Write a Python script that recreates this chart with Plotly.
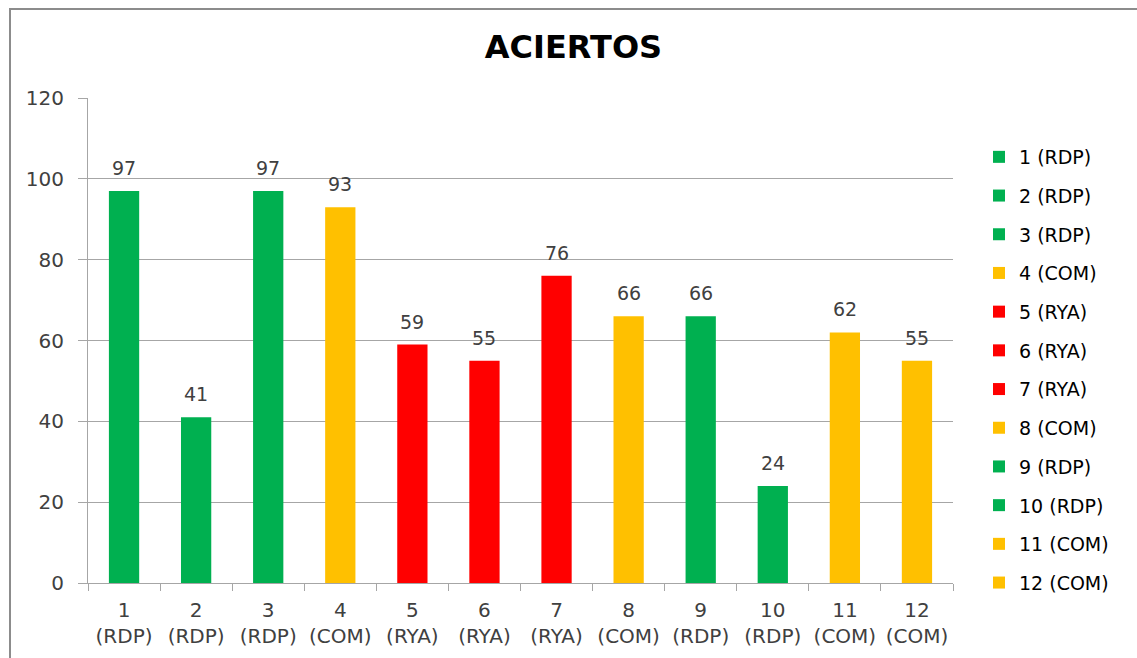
import plotly.graph_objects as go

# Test items and their hit rates
categories = ["1 (RDP)", "2 (RDP)", "3 (RDP)", "4 (COM)", "5 (RYA)", "6 (RYA)",
              "7 (RYA)", "8 (COM)", "9 (RDP)", "10 (RDP)", "11 (COM)", "12 (COM)"]
tick_labels = ["1<br>(RDP)", "2<br>(RDP)", "3<br>(RDP)", "4<br>(COM)", "5<br>(RYA)", "6<br>(RYA)",
               "7<br>(RYA)", "8<br>(COM)", "9<br>(RDP)", "10<br>(RDP)", "11<br>(COM)", "12<br>(COM)"]
values = [97, 41, 97, 93, 59, 55, 76, 66, 66, 24, 62, 55]
groups = ["RDP", "RDP", "RDP", "COM", "RYA", "RYA", "RYA", "COM", "RDP", "RDP", "COM", "COM"]

group_colors = {"RDP": "#00B050", "COM": "#FFC000", "RYA": "#FF0000"}

FONT = "DejaVu Sans, Open Sans, sans-serif"
TEXT = "#404040"
AXIS = "#A6A6A6"

W, H = 1137, 658
L, R, T, B = 88, 184, 98, 75
pw, ph = W - L - R, H - T - B

fig = go.Figure()
for i, (cat, val, grp) in enumerate(zip(categories, values, groups)):
    fig.add_trace(go.Bar(
        x=[tick_labels[i]], y=[val], name=cat,
        legendgroup=cat,
        marker=dict(color=group_colors[grp], line=dict(width=0)),
        width=0.42,
        cliponaxis=False,
    ))

# value labels above each bar
annotations = [
    dict(x=tick_labels[i], y=val, xref="x", yref="y", text=str(val),
         showarrow=False, yanchor="bottom", yshift=10,
         font=dict(family=FONT, size=19, color=TEXT))
    for i, val in enumerate(values)
]

fig.update_layout(
    width=W, height=H,
    margin=dict(l=L, r=R, t=T, b=B, autoexpand=False),
    paper_bgcolor="white", plot_bgcolor="white",
    barmode="overlay",
    title=dict(text="<b>ACIERTOS</b>", x=573.5 / W, xanchor="center",
               y=1 - 47 / H, yanchor="middle",
               font=dict(family=FONT, size=32, color="black")),
    showlegend=True,
    legend=dict(
        x=(979 - L) / pw, xanchor="left",
        y=1 - (138 - T) / ph, yanchor="top",
        font=dict(family=FONT, size=19, color="black"),
        tracegroupgap=11,
        itemclick=False, bgcolor="rgba(0,0,0,0)",
    ),
    annotations=annotations,
    xaxis=dict(
        categoryorder="array", categoryarray=tick_labels,
        tickfont=dict(family=FONT, size=20, color=TEXT),
        showline=True, linecolor=AXIS, linewidth=1,
        ticks="outside", ticklen=7, tickcolor=AXIS, tickson="boundaries",
        showgrid=False, zeroline=False, ticklabelstandoff=9, automargin=False,
    ),
    yaxis=dict(
        range=[0, 120], dtick=20,
        tickfont=dict(family=FONT, size=20, color=TEXT),
        showline=True, linecolor=AXIS, linewidth=1,
        ticks="outside", ticklen=9, tickcolor=AXIS,
        showgrid=True, gridcolor=AXIS, gridwidth=1,
        zeroline=False, ticklabelstandoff=10, automargin=False,
    ),
    shapes=[dict(
        type="rect", xref="paper", yref="paper",
        x0=(10 - L) / pw, x1=(W + 5 - L) / pw,
        y0=-(H + 5 - T - ph) / ph, y1=1 + (T - 9) / ph,
        line=dict(color="#8C8C8C", width=2), fillcolor="rgba(0,0,0,0)", layer="below",
    )],
)

fig.write_html("out.html")
